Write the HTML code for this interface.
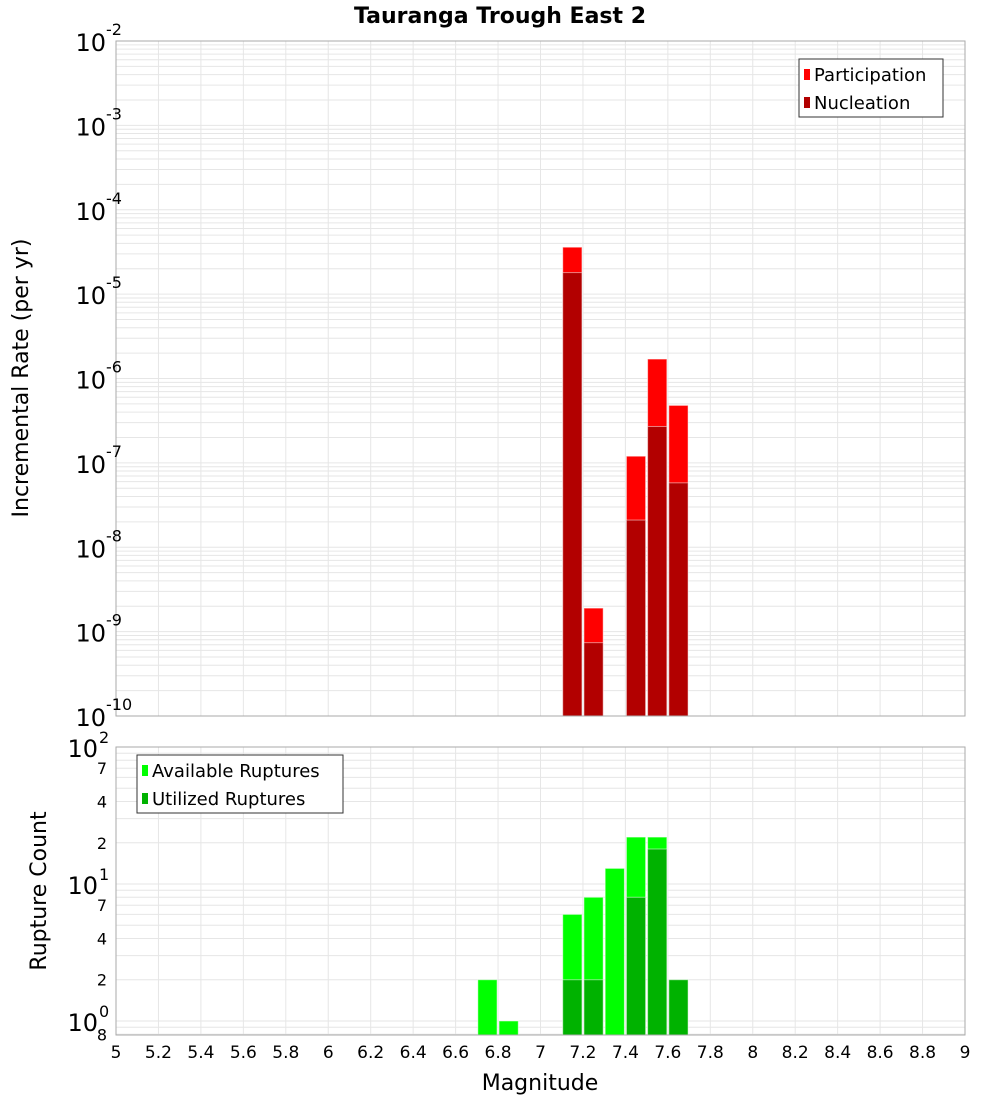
<!DOCTYPE html>
<html><head><meta charset="utf-8"><style>
body{margin:0;background:#fff;}
svg text{font-family:"DejaVu Sans","Liberation Sans",sans-serif;}
</style></head><body>
<svg id="c" width="1000" height="1100" xmlns="http://www.w3.org/2000/svg">
<text x="500" y="23" text-anchor="middle" font-size="22" font-weight="bold">Tauranga Trough East 2</text>
<g id="topPlot"></g>
<g id="botPlot"></g>
<text transform="translate(28,378) rotate(-90)" text-anchor="middle" font-size="22">Incremental Rate (per yr)</text>
<text transform="translate(46,891) rotate(-90)" text-anchor="middle" font-size="22">Rupture Count</text>
<text x="540" y="1090" text-anchor="middle" font-size="22">Magnitude</text>
</svg>
<script>
const mags=[6.75,6.85,7.15,7.25,7.35,7.45,7.55,7.65];
const participation=[0,0,3.6e-5,1.9e-9,0,1.2e-7,1.7e-6,4.8e-7];
const nucleation=[0,0,1.8e-5,7.4e-10,0,2.1e-8,2.7e-7,5.8e-8];
const available=[2,1,6,8,13,22,22,2];
const utilized=[0,0,2,2,0,8,18,2];
const xTicks=["5","5.2","5.4","5.6","5.8","6","6.2","6.4","6.6","6.8","7","7.2","7.4","7.6","7.8","8","8.2","8.4","8.6","8.8","9"];
const NS="http://www.w3.org/2000/svg";
const L=116,R=965;
const X=m=>L+(m-5)/4*(R-L);
const T0=41,T1=716,YT=v=>T0+(-2-Math.log10(v))/8*(T1-T0);
const B0=747,B1=1035,bmin=Math.log10(0.79),YB=v=>B0+(2-Math.log10(v))/(2-bmin)*(B1-B0);
function mk(p,tag,a){const e=document.createElementNS(NS,tag);for(const k in a)e.setAttribute(k,a[k]);p.appendChild(e);return e;}
const topG=document.getElementById('topPlot'),botG=document.getElementById('botPlot');
function grids(g,y0,y1,ylines){
  for(const y of ylines){const l=mk(g,'line',{x1:L,x2:R,y1:y,y2:y,stroke:'#e6e6e6','stroke-width':1});
    
    }
  xTicks.forEach(t=>{const x=X(+t);const l=mk(g,'line',{x1:x,x2:x,y1:y0,y2:y1,stroke:'#e6e6e6','stroke-width':1});
    
    });
}
let tl=[];for(let e=-10;e<-2;e++)for(let k=1;k<10;k++)tl.push(YT(k*Math.pow(10,e)));
grids(topG,T0,T1,tl);
let bl=[];for(let e=-1;e<2;e++)for(let k=1;k<10;k++){const v=k*Math.pow(10,e);if(v>=0.79)bl.push(YB(v));}
grids(botG,B0,B1,bl);
function bars(g,vals,fill,name,yf,base){
  vals.forEach((v,i)=>{if(v<=0)return;const x0=X(mags[i]-0.05)+1,x1=X(mags[i]+0.05)-1;const y=yf(v);
    const r=mk(g,'rect',{x:x0,y:y,width:x1-x0,height:base-y,fill:fill,stroke:'rgba(255,255,255,0.5)','stroke-width':1});
    
    });
}
bars(topG,participation,'#ff0000','participation-bar',YT,T1);
bars(topG,nucleation,'#b20000','nucleation-bar',YT,T1);
bars(botG,available,'#00ff00','available-bar',YB,B1);
bars(botG,utilized,'#00b200','utilized-bar',YB,B1);
mk(topG,'rect',{x:L,y:T0,width:R-L,height:T1-T0,fill:'none',stroke:'#aaa'});
mk(botG,'rect',{x:L,y:B0,width:R-L,height:B1-B0,fill:'none',stroke:'#aaa'});
for(let e=-10;e<=-2;e++){const y=YT(Math.pow(10,e));
  const t=mk(topG,'text',{x:106,y:y+10,'text-anchor':'end','font-size':24});t.textContent='10';
  
  
  const s=mk(topG,'text',{x:106,y:y-6,'font-size':16});s.textContent=String(e);
  
  }
[[1,'0'],[10,'1'],[100,'2']].forEach(([v,e])=>{const y=YB(v);
  const t=mk(botG,'text',{x:98,y:y+10,'text-anchor':'end','font-size':24});t.textContent='10';
  
  
  const s=mk(botG,'text',{x:99,y:y-4,'font-size':16});s.textContent=e;
  
  });
[[0.8,'8'],[2,'2'],[4,'4'],[7,'7'],[20,'2'],[40,'4'],[70,'7']].forEach(([v,s])=>{const y=YB(v);
  const t=mk(botG,'text',{x:107,y:y+6,'text-anchor':'end','font-size':16});t.textContent=s;
  
  });
xTicks.forEach(s=>{const t=mk(botG,'text',{x:X(+s),y:1058,'text-anchor':'middle','font-size':17});t.textContent=s;
  
  });
function legend(g,x,y,w,items){
  const b=mk(g,'rect',{x:x,y:y,width:w,height:58,fill:'#fff',stroke:'#333'});
  
  
  items.forEach(([c,s],i)=>{const r=mk(g,'rect',{x:x+5,y:y+10+i*28,width:6,height:11,fill:c});
    
    
    const t=mk(g,'text',{x:x+15,y:y+22+i*28,'font-size':18});t.textContent=s;
    
    });
}
legend(topG,799,59,144,[['#ff0000','Participation'],['#b20000','Nucleation']]);
legend(botG,137,755,206,[['#00ff00','Available Ruptures'],['#00b200','Utilized Ruptures']]);
</script>
</body></html>
